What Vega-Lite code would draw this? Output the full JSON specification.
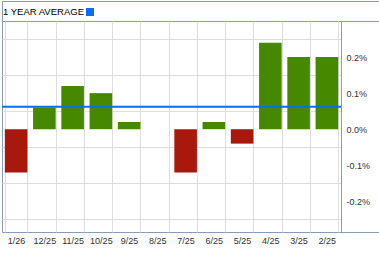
{
  "$schema": "https://vega.github.io/schema/vega-lite/v6.json",
  "padding": 0,
  "spacing": 0,
  "bounds": "flush",
  "config": {
    "view": {"stroke": "#8a9bb8", "strokeWidth": 1},
    "concat": {"spacing": 0},
    "axis": {"labelFont": "Liberation Sans", "labelFontSize": 9, "labelColor": "#333333", "gridColor": "#dddddd", "gridWidth": 1}
  },
  "datasets": {
    "table": [
      {"m": "1/26", "v": -0.12},
      {"m": "12/25", "v": 0.06},
      {"m": "11/25", "v": 0.12},
      {"m": "10/25", "v": 0.10},
      {"m": "9/25", "v": 0.02},
      {"m": "8/25", "v": 0.0},
      {"m": "7/25", "v": -0.12},
      {"m": "6/25", "v": 0.02},
      {"m": "5/25", "v": -0.04},
      {"m": "4/25", "v": 0.24},
      {"m": "3/25", "v": 0.20},
      {"m": "2/25", "v": 0.20}
    ],
    "avg": [{"label": "1 YEAR AVERAGE", "v": 0.062}]
  },
  "vconcat": [
    {
      "width": 378,
      "height": 20,
      "data": {"name": "avg"},
      "mark": {"type": "square", "opacity": 0, "size": 1},
      "encoding": {
        "x": {"field": "v", "type": "quantitative", "axis": null, "scale": {"domain": [0, 0.124]}},
        "y": {"field": "v", "type": "quantitative", "axis": null, "scale": {"domain": [0, 0.124]}},
        "color": {
          "field": "label",
          "type": "nominal",
          "scale": {"range": ["#0a6cf2"]},
          "legend": {
            "orient": "none",
            "legendX": 1,
            "legendY": 6,
            "title": "1 YEAR AVERAGE",
            "titleOrient": "left",
            "titleFont": "Liberation Sans",
            "titleFontSize": 9.5,
            "titleFontWeight": "normal",
            "titleColor": "#000000",
            "titlePadding": 0,
            "labelExpr": "''",
            "symbolType": "square",
            "symbolSize": 64,
            "symbolOpacity": 1,
            "symbolStrokeWidth": 0,
            "padding": 0
          }
        }
      }
    },
    {
      "spacing": 0,
      "bounds": "flush",
      "hconcat": [
        {
          "width": 339,
          "height": 211,
          "layer": [
            {
              "data": {"name": "table"},
              "mark": {"type": "bar"},
              "encoding": {
                "x": {
                  "field": "m",
                  "type": "ordinal",
                  "sort": null,
                  "scale": {"paddingInner": 0.2, "paddingOuter": 0.1},
                  "axis": {"title": null, "labelAngle": 0, "ticks": false, "domain": false, "tickBand": "extent", "grid": true, "labelPadding": 4}
                },
                "y": {
                  "field": "v",
                  "type": "quantitative",
                  "scale": {"domain": [-0.285, 0.3], "nice": false, "zero": false},
                  "axis": {"title": null, "labels": false, "ticks": false, "domain": false, "grid": true, "values": [-0.25, -0.2, -0.15, -0.1, -0.05, 0, 0.05, 0.1, 0.15, 0.2, 0.25, 0.3]}
                },
                "y2": {"datum": 0},
                "color": {"condition": {"test": "datum.v < 0", "value": "#a8180c"}, "value": "#468800"}
              }
            },
            {
              "mark": {"type": "rule", "color": "#000000", "strokeWidth": 1},
              "encoding": {"y": {"datum": 0}}
            },
            {
              "data": {"name": "avg"},
              "mark": {"type": "rule", "color": "#0a6cf2", "strokeWidth": 2},
              "encoding": {"y": {"field": "v", "type": "quantitative"}}
            }
          ]
        },
        {
          "width": 39,
          "height": 211,
          "data": {"name": "table"},
          "mark": {"type": "rule", "opacity": 0},
          "encoding": {
            "y": {
              "field": "v",
              "type": "quantitative",
              "scale": {"domain": [-0.285, 0.3], "nice": false, "zero": false},
              "axis": {
                "orient": "left",
                "title": null,
                "ticks": false,
                "domain": false,
                "grid": false,
                "values": [-0.2, -0.1, 0, 0.1, 0.2],
                "labelAlign": "left",
                "labelPadding": -5,
                "labelExpr": "(datum.value < 0 ? '-' : '') + format(abs(datum.value), '.1f') + '%'"
              }
            }
          }
        }
      ]
    }
  ]
}
